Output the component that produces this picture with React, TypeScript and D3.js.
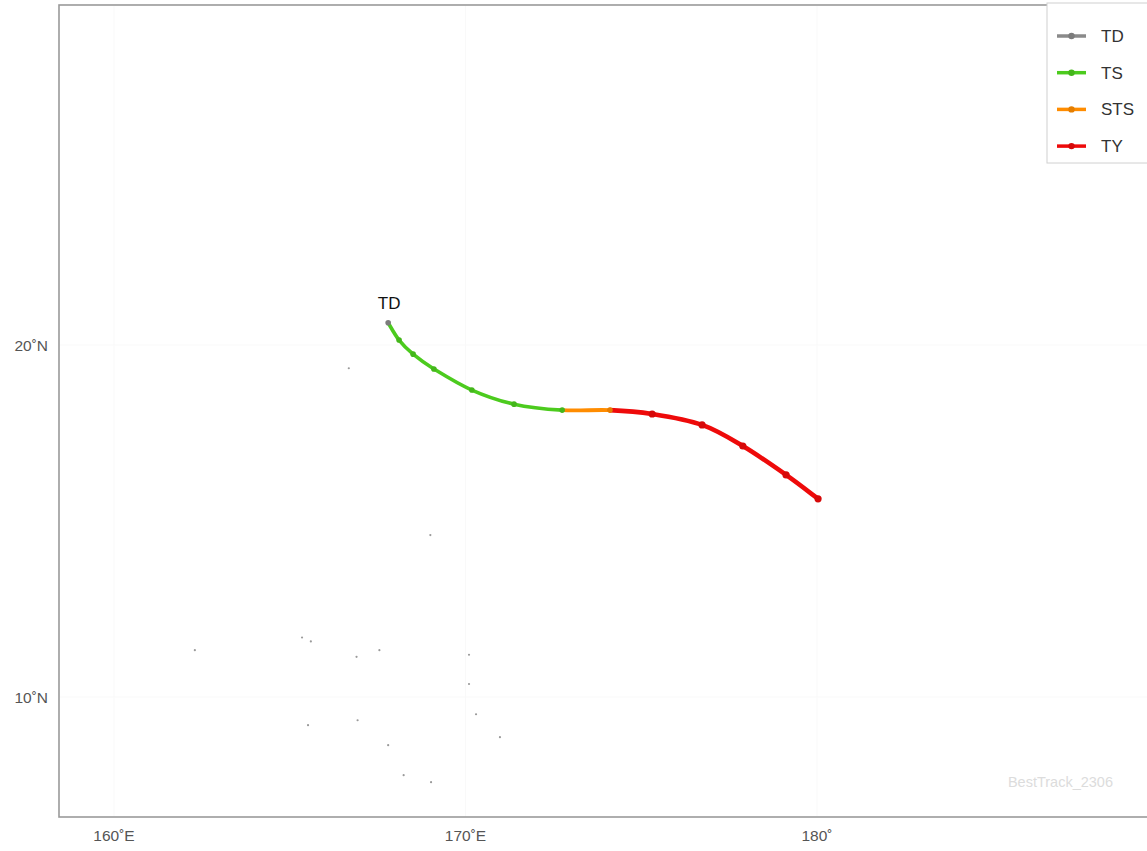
import React, { useEffect } from "react";
import * as d3 from "d3";

// Track points (lon, lat, category)
const trackLon = [167.8, 168.11, 168.51, 169.1, 170.18, 171.38, 172.75, 174.11, 175.31, 176.73, 177.89, 179.12, 180.03];
const trackLat = [20.63, 20.14, 19.74, 19.32, 18.72, 18.32, 18.15, 18.15, 18.04, 17.73, 17.13, 16.31, 15.63];
const trackCat = ["TD", "TS", "TS", "TS", "TS", "TS", "TS", "STS", "TY", "TY", "TY", "TY", "TY"];

const categories = ["TD", "TS", "STS", "TY"];
const catColors = ["#8a8a8a", "#4ccb1e", "#ff8c00", "#ee0a0a"];
const catWidths = [2.8, 3.6, 3.9, 4.6];

// small islands (lon, lat)
const islandLon = [166.68, 169.0, 162.3, 165.35, 165.6, 166.9, 167.55, 170.1, 170.1, 170.3, 170.98, 165.52, 166.93, 167.8, 168.24, 169.02];
const islandLat = [19.34, 14.6, 11.33, 11.69, 11.58, 11.14, 11.33, 11.2, 10.37, 9.51, 8.86, 9.2, 9.34, 8.63, 7.78, 7.58];

const xTicks = [160, 170, 180];
const xTickLabels = ["160˚E", "170˚E", "180˚"];
const yTicks = [10, 20];
const yTickLabels = ["10˚N", "20˚N"];

const W = 1147;
const H = 851;
const panel = { left: 59, top: 5, right: 1147, bottom: 817 };

export default function App() {
  useEffect(() => {
    document.body.style.margin = "0";
  }, []);

  const x = d3.scaleLinear().domain([160, 180]).range([114, 817]);
  const y = d3.scaleLinear().domain([10, 20]).range([697, 345]);

  const pts = trackLon.map((lo, i) => [x(lo), y(trackLat[i])] as [number, number]);
  const n = pts.length;
  const segs: { d: string; cat: string }[] = [];
  for (let i = 0; i < n - 1; i++) {
    const p0 = pts[Math.max(0, i - 1)];
    const p1 = pts[i];
    const p2 = pts[i + 1];
    const p3 = pts[Math.min(n - 1, i + 2)];
    const c1 = [p1[0] + (p2[0] - p0[0]) / 6, p1[1] + (p2[1] - p0[1]) / 6];
    const c2 = [p2[0] - (p3[0] - p1[0]) / 6, p2[1] - (p3[1] - p1[1]) / 6];
    const path = d3.path();
    path.moveTo(p1[0], p1[1]);
    path.bezierCurveTo(c1[0], c1[1], c2[0], c2[1], p2[0], p2[1]);
    segs.push({ d: path.toString(), cat: trackCat[i + 1] });
  }
  const ci = (c: string) => categories.indexOf(c);
  const font = "'Liberation Sans', Arial, Helvetica, sans-serif";

  const gridX = d3.range(160, 190, 10);
  const gridY = d3.range(10, 30, 10);

  return (
    <svg width={W} height={H} style={{ display: "block", background: "#fff" }} fontFamily={font}>
      {/* faint grid */}
      {gridX.map((g) => (
        <line key={"gx" + g} x1={x(g)} x2={x(g)} y1={panel.top} y2={panel.bottom} stroke="#f9f9f9" strokeWidth={1} />
      ))}
      {gridY.map((g) => (
        <line key={"gy" + g} x1={panel.left} x2={panel.right} y1={y(g)} y2={y(g)} stroke="#f9f9f9" strokeWidth={1} />
      ))}
      {/* islands */}
      {islandLon.map((lo, i) => (
        <circle key={"is" + i} cx={x(lo)} cy={y(islandLat[i])} r={1.1} fill="#9a9a9a" />
      ))}
      {/* track */}
      {segs.map((s, i) => (
        <path key={"s" + i} d={s.d} fill="none" stroke={catColors[ci(s.cat)]} strokeWidth={catWidths[ci(s.cat)]} strokeLinecap="round" />
      ))}
      {pts.map((p, i) => (
        <circle key={"p" + i} cx={p[0]} cy={p[1]} r={trackCat[i] === "TY" ? 3.6 : 2.8}
          fill={d3.color(catColors[ci(trackCat[i])])!.darker(0.3).toString()} />
      ))}
      <text x={pts[0][0] + 1} y={pts[0][1] - 14} textAnchor="middle" fontSize={17} fill="#111">TD</text>
      {/* watermark */}
      <text x={1113} y={787} textAnchor="end" fontSize={14.5} fill="#dcdcdc">BestTrack_2306</text>
      {/* panel border */}
      <rect x={panel.left} y={panel.top} width={panel.right - panel.left + 2} height={panel.bottom - panel.top}
        fill="none" stroke="#9a9a9a" strokeWidth={1.6} />
      {/* axes labels */}
      {xTicks.map((t, i) => (
        <text key={"xt" + i} x={x(t)} y={841} textAnchor="middle" fontSize={15.5} fill="#555">{xTickLabels[i]}</text>
      ))}
      {yTicks.map((t, i) => (
        <text key={"yt" + i} x={48} y={y(t) + 5.5} textAnchor="end" fontSize={15.5} fill="#555">{yTickLabels[i]}</text>
      ))}
      {/* legend */}
      <rect x={1047} y={3} width={110} height={160} fill="#fff" stroke="#d0d0d0" strokeWidth={1} />
      {categories.map((c, i) => {
        const ly = 36 + i * 36.7;
        return (
          <g key={"lg" + c}>
            <line x1={1057} x2={1086} y1={ly} y2={ly} stroke={catColors[i]} strokeWidth={3.5} />
            <circle cx={1071.5} cy={ly} r={3.2} fill={d3.color(catColors[i])!.darker(0.3).toString()} />
            <text x={1101} y={ly + 6} fontSize={17} fill="#333">{c}</text>
          </g>
        );
      })}
    </svg>
  );
}
